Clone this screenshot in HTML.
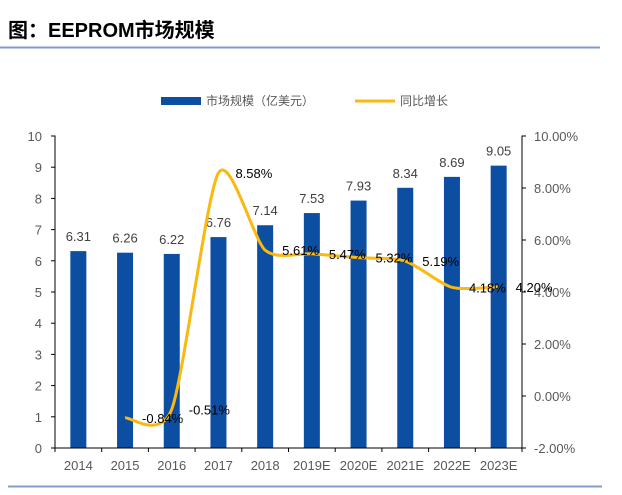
<!DOCTYPE html>
<html><head><meta charset="utf-8"><style>
body{margin:0;background:#fff;width:622px;height:490px;overflow:hidden;font-family:"Liberation Sans","Noto Sans CJK SC",sans-serif}
</style></head><body>
<svg width="622" height="490" xmlns="http://www.w3.org/2000/svg">
<text x="8" y="37" font-size="20" font-weight="bold" fill="#000" font-family="'Liberation Sans','Noto Sans CJK SC',sans-serif">图：EEPROM市场规模</text>
<line x1="0" y1="47.5" x2="600" y2="47.5" stroke="#7f9ccb" stroke-width="2"/>
<line x1="8" y1="486.5" x2="602" y2="486.5" stroke="#7f9ccb" stroke-width="2"/>
<g>
<rect x="161" y="97" width="40" height="8" fill="#0c4ea2"/>
<text x="206" y="105" font-size="12" fill="#595959" font-family="'Liberation Sans','Noto Sans CJK SC',sans-serif">市场规模（亿美元）</text>
<line x1="355" y1="101" x2="395" y2="101" stroke="#fbb80f" stroke-width="3"/>
<text x="400" y="105" font-size="12" fill="#595959" font-family="'Liberation Sans','Noto Sans CJK SC',sans-serif">同比增长</text>
</g>
<g id="plot"></g>
</svg>
<script>
const categories=["2014","2015","2016","2017","2018","2019E","2020E","2021E","2022E","2023E"];
const marketSize=[6.31,6.26,6.22,6.76,7.14,7.53,7.93,8.34,8.69,9.05];
const growth=[null,-0.84,-0.51,8.58,5.61,5.47,5.32,5.19,4.18,4.20];
const leftTicks=[0,1,2,3,4,5,6,7,8,9,10];
const rightTicks=[-2,0,2,4,6,8,10];
const X0=55,X1=522,YB=448,YT=136;
const band=(X1-X0)/categories.length;
const xc=i=>X0+band*(i+0.5);
const yL=v=>YB-(v/10)*(YB-YT);
const yR=v=>YB-((v+2)/12)*(YB-YT);
const g=document.getElementById('plot');
const NS="http://www.w3.org/2000/svg";
function mk(t,a,p){const e=document.createElementNS(NS,t);for(const k in a)e.setAttribute(k,a[k]);(p||g).appendChild(e);return e;}
categories.forEach((c,i)=>{
 const r=mk('rect',{x:xc(i)-8,y:yL(marketSize[i]),width:16,height:YB-yL(marketSize[i]),fill:'#0c4ea2'});
 
 
 const t=mk('text',{x:xc(i),y:yL(marketSize[i])-10,'text-anchor':'middle','font-size':13,fill:'#404040'});
 t.textContent=marketSize[i].toFixed(2);
 
 
 const xl=mk('text',{x:xc(i),y:470,'text-anchor':'middle','font-size':13,fill:'#595959'});
 xl.textContent=c;
 
 
});
const ax=mk('path',{d:`M${X0-4},${YT}H${X0}V${YB}H${X1}V${YT}H${X1+4}`,stroke:'#000',fill:'none','stroke-width':1});


for(let i=0;i<=categories.length;i++){const l=mk('line',{x1:X0+band*i,x2:X0+band*i,y1:YB,y2:YB+4,stroke:'#000'});}
leftTicks.forEach(v=>{
 const l=mk('line',{x1:X0-4,x2:X0,y1:yL(v),y2:yL(v),stroke:'#000'});
 
 
 const t=mk('text',{x:42,y:yL(v)+5,'text-anchor':'end','font-size':13,fill:'#595959'});
 t.textContent=v;
 
 
});
rightTicks.forEach(v=>{
 const l=mk('line',{x1:X1,x2:X1+4,y1:yR(v),y2:yR(v),stroke:'#000'});
 
 
 const t=mk('text',{x:534,y:yR(v)+5,'font-size':13,fill:'#595959'});
 t.textContent=v.toFixed(2)+'%';
 
 
});
const pts=[];growth.forEach((v,i)=>{if(v!==null)pts.push([xc(i),yR(v)]);});
let d=`M${pts[0][0]},${pts[0][1]}`;
for(let i=0;i<pts.length-1;i++){
 const p0=pts[i-1]||pts[i],p1=pts[i],p2=pts[i+1],p3=pts[i+2]||p2,k=8;
 d+=`C${p1[0]+(p2[0]-p0[0])/k},${p1[1]+(p2[1]-p0[1])/k} ${p2[0]-(p3[0]-p1[0])/k},${p2[1]-(p3[1]-p1[1])/k} ${p2[0]},${p2[1]}`;
}
const ln=mk('path',{d:d,stroke:'#fbb80f','stroke-width':3,fill:'none'});


growth.forEach((v,i)=>{if(v===null)return;
 const t=mk('text',{x:xc(i)+17,y:yR(v)+5,'font-size':13,fill:'#000'});
 t.textContent=v.toFixed(2)+'%';
 
 
});
</script>
</body></html>
